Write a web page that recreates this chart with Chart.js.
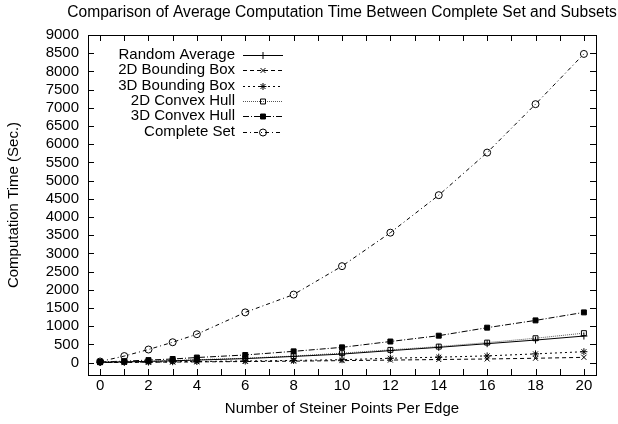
<!DOCTYPE html>
<html>
<head>
<meta charset="utf-8">
<script src="https://cdn.jsdelivr.net/npm/chart.js@4.4.1/dist/chart.umd.min.js"></script>
<style>
  html, body { margin: 0; padding: 0; background: #fff; }
  #wrap { width: 618px; height: 424px; }
</style>
</head>
<body>
<div id="wrap"><canvas id="chart" width="618" height="424"></canvas></div>
<script>
// steiner points per edge
var xValues = [0, 1, 2, 3, 4, 6, 8, 10, 12, 14, 16, 18, 20];

// average computation time (sec.) per method
var randomAverage = [10, 20, 35, 50, 70, 110, 170, 235, 330, 420, 520, 620, 730];
var boundingBox2D = [3, 6, 10, 15, 20, 30, 40, 55, 70, 85, 100, 120, 145];
var boundingBox3D = [5, 10, 15, 25, 30, 45, 60, 80, 120, 150, 185, 240, 300];
var convexHull2D = [10, 20, 35, 55, 80, 120, 180, 260, 350, 440, 550, 670, 810];
var convexHull3D = [20, 40, 70, 100, 140, 210, 310, 420, 580, 740, 960, 1160, 1380];
var completeSet = [30, 180, 360, 560, 780, 1380, 1870, 2650, 3570, 4600, 5770, 7100, 8480];

// tick positions (x labelled on even values only)
var xTicks = [0, 1, 2, 3, 4, 5, 6, 7, 8, 9, 10, 11, 12, 13, 14, 15, 16, 17, 18, 19, 20];
var yTicks = [0, 500, 1000, 1500, 2000, 2500, 3000, 3500, 4000, 4500, 5000,
  5500, 6000, 6500, 7000, 7500, 8000, 8500, 9000];

var chartTitle = "Comparison of Average Computation Time Between Complete Set and Subsets";
var FONT = "'Liberation Sans', Arial, Helvetica, sans-serif";

function pts(values) {
  return values.map(function (v, i) { return { x: xValues[i], y: v }; });
}

function series(label, values, dash, style, fill, color) {
  return {
    label: label,
    data: pts(values),
    borderColor: color || "#000",
    borderWidth: 1,
    borderDash: dash,
    pointStyle: style,
    pointRadius: 3.5,
    pointBorderWidth: 1,
    pointBorderColor: "#000",
    pointBackgroundColor: fill ? "#000" : "rgba(0,0,0,0)",
    fill: false,
    tension: 0
  };
}

var datasets = [
  series("Random Average", randomAverage, [], "cross", false),
  series("2D Bounding Box", boundingBox2D, [4, 3], "crossRot", false),
  series("3D Bounding Box", boundingBox3D, [2, 3], "star", false),
  series("2D Convex Hull", convexHull2D, [1, 1], "rect", false, "#555"),
  series("3D Convex Hull", convexHull3D, [6, 2, 1, 2], "rect", true),
  series("Complete Set", completeSet, [4, 3, 1, 3], "circle", false)
];

// gnuplot-like frame, inward ticks, title and legend
var framePlugin = {
  id: "frame",
  afterDatasetsDraw: function (chart) {
    var ctx = chart.ctx, a = chart.chartArea;
    var xs = chart.scales.x, ys = chart.scales.y;
    var len = 6;
    ctx.save();
    ctx.strokeStyle = "#000";
    ctx.lineWidth = 1;
    ctx.setLineDash([]);
    ctx.strokeRect(Math.round(a.left) + 0.5, Math.round(a.top) + 0.5,
      Math.round(a.right - a.left), Math.round(a.bottom - a.top));
    ctx.beginPath();
    xs.ticks.forEach(function (t) {
      var px = Math.round(xs.getPixelForValue(t.value)) + 0.5;
      ctx.moveTo(px, a.bottom); ctx.lineTo(px, a.bottom - len);
      ctx.moveTo(px, a.top); ctx.lineTo(px, a.top + len);
    });
    ys.ticks.forEach(function (t) {
      var py = Math.round(ys.getPixelForValue(t.value)) + 0.5;
      ctx.moveTo(a.left, py); ctx.lineTo(a.left + len, py);
      ctx.moveTo(a.right, py); ctx.lineTo(a.right - len, py);
    });
    ctx.stroke();

    // title
    ctx.fillStyle = "#000";
    ctx.font = "15.6px " + FONT;
    ctx.textAlign = "center";
    ctx.textBaseline = "middle";
    ctx.fillText(chartTitle, (a.left + a.right) / 2, 13);

    // legend
    ctx.font = "15px " + FONT;
    var textRight = 235, lineL = 243, lineR = 283, rowY = 55, rowH = 15.3;
    chart.data.datasets.forEach(function (ds, i) {
      var y = rowY + i * rowH;
      ctx.textAlign = "right";
      ctx.fillStyle = "#000";
      ctx.fillText(ds.label, textRight, y);
      ctx.strokeStyle = ds.borderColor;
      ctx.setLineDash(ds.borderDash);
      ctx.beginPath();
      ctx.moveTo(lineL, Math.round(y) + 0.5);
      ctx.lineTo(lineR, Math.round(y) + 0.5);
      ctx.stroke();
      ctx.setLineDash([]);
      ctx.strokeStyle = "#000";
      ctx.fillStyle = ds.pointBackgroundColor;
      Chart.helpers.drawPoint(ctx, {
        pointStyle: ds.pointStyle, radius: 3.5, rotation: 0, borderWidth: 1
      }, (lineL + lineR) / 2, Math.round(y) + 0.5);
    });
    ctx.restore();
  }
};

new Chart(document.getElementById("chart"), {
  type: "line",
  data: { datasets: datasets },
  options: {
    responsive: false,
    animation: false,
    layout: { padding: { top: 35, right: 22, bottom: 0, left: 0 } },
    plugins: {
      legend: { display: false },
      title: { display: false },
      tooltip: { enabled: false }
    },
    scales: {
      x: {
        type: "linear",
        min: -0.5,
        max: 20.5,
        afterBuildTicks: function (s) {
          s.ticks = xTicks.map(function (v) { return { value: v }; });
        },
        afterFit: function (s) { s.height = 49; },
        grid: { display: false, drawTicks: false },
        border: { display: false },
        ticks: {
          autoSkip: false,
          maxRotation: 0,
          padding: 2,
          color: "#000",
          font: { family: FONT, size: 15 },
          callback: function (v) { return v % 2 === 0 ? String(v) : ""; }
        },
        title: {
          display: true,
          text: "Number of Steiner Points Per Edge",
          color: "#000",
          font: { family: FONT, size: 15 },
          padding: { top: 0, bottom: 6 }
        }
      },
      y: {
        type: "linear",
        min: -340,
        max: 9000,
        afterBuildTicks: function (s) {
          s.ticks = yTicks.map(function (v) { return { value: v }; });
        },
        afterFit: function (s) { s.width = 88; },
        grid: { display: false, drawTicks: false },
        border: { display: false },
        ticks: {
          autoSkip: false,
          padding: 9,
          color: "#000",
          font: { family: FONT, size: 15 },
          callback: function (v) { return String(v); }
        },
        title: {
          display: true,
          text: "Computation Time (Sec.)",
          color: "#000",
          font: { family: FONT, size: 15 },
          padding: { top: 5, bottom: 0 }
        }
      }
    }
  },
  plugins: [framePlugin]
});
</script>
</body>
</html>
